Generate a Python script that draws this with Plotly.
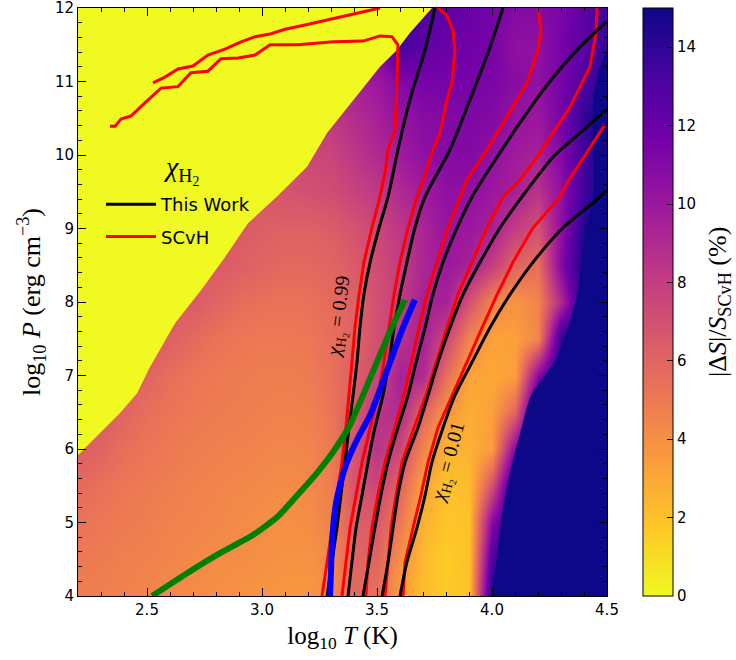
import plotly.graph_objects as go

# ---------------- data ----------------
T_grid = [2.2, 2.3, 2.4, 2.5, 2.6, 2.7, 2.8, 2.9, 3.0, 3.1, 3.2, 3.3,
          3.4, 3.5, 3.6, 3.7, 3.8, 3.9, 4.0, 4.1, 4.2, 4.3, 4.4, 4.5]
P_grid = [4.0, 4.5, 5.0, 5.5, 6.0, 6.5, 7.0, 7.5, 8.0, 8.5, 9.0, 9.5,
          10.0, 10.5, 11.0, 11.5, 12.0]

# |dS|/S_SCvH (%) on the grid above, one row per log10 P
dS_p40 = [4.8, 4.7, 4.6, 4.5, 4.3, 4.2, 4.0, 3.9, 3.8, 3.7, 3.7, 4.1, 5.8, 5.4, 3.4, 2.2, 1.7, 2.0, 15, 15, 15, 15, 15, 15]
dS_p45 = [5.0, 4.9, 4.7, 4.6, 4.5, 4.3, 4.2, 4.1, 4.0, 3.9, 3.9, 4.3, 6.0, 6.0, 4.0, 2.3, 1.6, 2.0, 13.0, 15, 15, 15, 15, 15]
dS_p50 = [5.3, 5.1, 4.9, 4.8, 4.6, 4.5, 4.4, 4.2, 4.1, 4.0, 4.1, 4.6, 6.3, 6.5, 5.0, 2.6, 1.9, 2.0, 11.0, 15, 15, 15, 15, 15]
dS_p55 = [5.7, 5.4, 5.1, 4.9, 4.8, 4.6, 4.5, 4.4, 4.3, 4.2, 4.3, 4.8, 6.8, 7.5, 6.0, 3.2, 2.0, 2.2, 7.0, 15, 15, 15, 15, 15]
dS_p60 = [6.3, 6.0, 5.5, 5.2, 5.0, 4.8, 4.7, 4.6, 4.5, 4.4, 4.5, 5.0, 6.8, 8.5, 7.5, 4.5, 2.5, 2.6, 3.5, 11.0, 15, 15, 15, 15]
dS_p65 = [6.5, 6.5, 6.0, 5.5, 5.2, 5.0, 4.9, 4.8, 4.7, 4.6, 4.7, 5.2, 6.5, 8.5, 9.0, 6.0, 3.8, 2.8, 3.3, 6.0, 15, 15, 15, 15]
dS_p70 = [6.5, 6.5, 6.4, 6.0, 5.5, 5.2, 5.0, 4.9, 4.8, 4.8, 4.9, 5.4, 6.2, 7.5, 9.5, 9.0, 5.5, 3.2, 3.0, 3.4, 11.0, 15, 15, 15]
dS_p75 = [6.5, 6.5, 6.5, 6.5, 6.2, 5.7, 5.3, 5.1, 5.0, 5.0, 5.1, 5.5, 6.0, 7.0, 8.5, 9.5, 7.5, 4.5, 3.2, 3.3, 4.5, 14.0, 15, 15]
dS_p80 = [6.5, 6.5, 6.5, 6.5, 6.5, 6.5, 6.0, 5.6, 5.4, 5.3, 5.4, 5.7, 6.2, 7.0, 8.0, 9.5, 9.5, 7.0, 4.5, 3.8, 4.5, 9.0, 15, 15]
dS_p85 = [6.5, 6.5, 6.5, 6.5, 6.5, 6.5, 6.5, 6.3, 6.0, 5.8, 5.8, 6.0, 6.5, 7.2, 8.0, 9.2, 10.0, 9.5, 8.0, 6.0, 5.5, 11.0, 15, 15]
dS_p90 = [6.5, 6.5, 6.5, 6.5, 6.5, 6.5, 6.5, 6.5, 6.3, 6.2, 6.2, 6.4, 6.9, 7.5, 8.3, 9.3, 10.2, 10.0, 9.5, 8.0, 7.0, 10.5, 14.5, 15]
dS_p95 = [6.8, 6.8, 6.8, 6.8, 6.8, 6.8, 6.8, 6.8, 6.8, 6.8, 7.0, 7.2, 7.7, 8.2, 9.0, 9.8, 10.5, 10.5, 10.0, 9.5, 8.5, 10.5, 13.5, 15]
dS_p100 = [7.5, 7.5, 7.5, 7.5, 7.5, 7.5, 7.5, 7.5, 7.5, 7.5, 7.5, 7.6, 8.4, 9.0, 9.8, 10.5, 11.0, 11.0, 10.5, 9.8, 9.5, 11.0, 13.5, 15]
dS_p105 = [8.2, 8.2, 8.2, 8.2, 8.2, 8.2, 8.2, 8.2, 8.2, 8.2, 8.2, 8.2, 8.8, 9.5, 10.3, 10.8, 11.0, 11.2, 11.0, 10.3, 10.0, 11.5, 14.0, 15]
dS_p110 = [9.5, 9.5, 9.5, 9.5, 9.5, 9.5, 9.5, 9.5, 9.5, 9.5, 9.5, 9.5, 9.5, 10.0, 11.0, 11.5, 11.5, 11.5, 11.3, 10.8, 10.5, 11.5, 13.0, 14.5]
dS_p115 = [11.0, 11.0, 11.0, 11.0, 11.0, 11.0, 11.0, 11.0, 11.0, 11.0, 11.0, 11.0, 11.0, 11.0, 13.5, 12.5, 12.0, 11.8, 11.5, 10.5, 10.5, 11.5, 12.5, 14.0]
dS_p120 = [13.0, 13.0, 13.0, 13.0, 13.0, 13.0, 13.0, 13.0, 13.0, 13.0, 13.0, 13.0, 13.0, 13.0, 13.0, 13.0, 12.5, 12.0, 11.5, 11.0, 11.0, 11.3, 12.5, 13.5]

# region where |dS|/S = 0 (upper left), boundary
zero_T = [2.2, 2.296, 2.383, 2.457, 2.51, 2.622, 2.735, 2.839, 2.939, 3.07,
          3.196, 3.283, 3.396, 3.513, 3.587, 3.643, 3.739, 2.2]
zero_P = [5.92, 6.22, 6.49, 6.76, 7.1, 7.71, 8.16, 8.61, 9.07, 9.45,
          9.84, 10.30, 10.75, 11.2, 11.43, 11.66, 12.0, 12.0]

# region where |dS|/S >= 15 (lower right, saturated), boundary
sat_T = [4.0, 4.02, 4.035, 4.06, 4.09, 4.13, 4.17, 4.27, 4.33, 4.37, 4.39, 4.41, 4.44, 4.44, 4.44, 4.47, 4.5, 4.5]
sat_P = [4.0, 4.5, 4.93, 5.4, 5.82, 6.3, 6.73, 7.18, 7.65, 8.10, 8.54, 9.0, 9.43, 10.0, 10.75, 11.2, 11.4, 4.0]

# shared log10 P levels used by the lower parts of the contours
P_low = [9.43, 9.01, 8.54, 8.10, 7.65, 7.18, 6.73, 6.29, 5.82, 5.37, 4.93, 4.46, 4.00]

# chi_H2 contours, This Work (black)
tw1_T = [3.752, 3.709, 3.643, 3.591] + [3.548, 3.509, 3.470, 3.443, 3.426, 3.413, 3.396, 3.378, 3.361, 3.343, 3.326, 3.304, 3.283]
tw1_P = [12.0, 11.43, 10.75, 10.07] + P_low
tw2_T = [4.048, 3.987, 3.904, 3.817] + [3.709, 3.665, 3.630, 3.600, 3.574, 3.552, 3.526, 3.491, 3.461, 3.435, 3.409, 3.391, 3.374]
tw2_P = [12.0, 11.43, 10.75, 10.07] + P_low
tw3_T = [4.496, 4.370, 4.222, 4.122, 4.022] + [3.913, 3.848, 3.787, 3.743, 3.709, 3.670, 3.635, 3.591, 3.548, 3.517, 3.491, 3.465, 3.439]
tw3_P = [11.81, 11.43, 10.88, 10.44, 9.97] + P_low
tw4_T = [4.496, 4.383, 4.265] + [4.130, 4.035, 3.948, 3.874, 3.817, 3.765, 3.722, 3.678, 3.622, 3.591, 3.570, 3.548, 3.522]
tw4_P = [10.61, 10.30, 9.97] + P_low
tw5_T = [4.496] + [4.470, 4.309, 4.178, 4.078, 3.991, 3.913, 3.839, 3.787, 3.739, 3.709, 3.674, 3.630, 3.600]
tw5_P = [9.52] + P_low

# chi_H2 contours, SCvH (red); None marks a break where the line leaves the frame
sc1_T = [2.339, 2.361, 2.387, 2.430, 2.491, 2.561, 2.635, 2.691, 2.765, 2.822, 2.896, 2.970, 3.035, 3.157,
         3.309, 3.439, 3.513, 3.565, 3.591, 3.587, 3.578, 3.548, 3.535] + \
        [3.513, 3.478, 3.443, 3.422, 3.404, 3.391, 3.378, 3.365, 3.348, 3.326, 3.304, 3.283, 3.261]
sc1_P = [10.39, 10.39, 10.49, 10.53, 10.71, 10.91, 10.93, 11.12, 11.14, 11.31, 11.32, 11.36, 11.50, 11.50,
         11.54, 11.55, 11.62, 11.61, 11.50, 10.98, 10.34, 10.07, 9.76] + P_low
sc2_T = [2.526, 2.578, 2.635, 2.700, 2.765, 2.839, 2.909, 2.970, 3.039, 3.100, 3.187, 3.243, 3.309, 3.457, 3.513,
         None,
         3.765, 3.804, 3.830, 3.839, 3.826, 3.804, 3.774, 3.743, 3.709] + \
        [3.674, 3.635, 3.600, 3.574, 3.552, 3.530, 3.504, 3.470, 3.435, 3.409, 3.383, 3.365, 3.348]
sc2_P = [10.98, 11.06, 11.17, 11.21, 11.36, 11.44, 11.54, 11.61, 11.65, 11.71, 11.77, 11.81, 11.85, 11.96, 12.0,
         None,
         12.0, 11.90, 11.70, 11.43, 10.98, 10.75, 10.30, 10.07, 9.73] + P_low
sc3_T = [4.200, 4.213, 4.200, 4.152, 4.065, 3.978, 3.891] + \
        [3.861, 3.809, 3.761, 3.717, 3.683, 3.648, 3.617, 3.578, 3.535, 3.504, 3.478, 3.461, 3.452]
sc3_P = [12.0, 11.70, 11.43, 10.98, 10.52, 10.07, 9.66] + P_low
sc4_T = [4.457, 4.452, 4.426, 4.404, 4.339, 4.265, 4.187, 4.113] + \
        [4.048, 3.978, 3.913, 3.852, 3.804, 3.757, 3.713, 3.661, 3.609, 3.583, 3.561, 3.548, 3.535]
sc4_P = [12.0, 11.66, 11.20, 11.06, 10.65, 10.30, 9.93, 9.63] + P_low
sc5_T = [4.491, 4.439, 4.396, 4.361, 4.326] + \
        [4.296, 4.178, 4.091, 4.022, 3.957, 3.891, 3.826, 3.765, 3.722, 3.691, 3.657, 3.622, 3.613]
sc5_P = [10.41, 10.16, 9.97, 9.80, 9.62] + P_low

# green and blue tracks
green_T = [2.522, 2.674, 2.804, 2.961, 3.065, 3.165, 3.243, 3.309, 3.383, 3.439, 3.513, 3.570, 3.622]
green_P = [4.00, 4.31, 4.56, 4.83, 5.07, 5.41, 5.69, 5.96, 6.33, 6.73, 7.28, 7.69, 8.03]
blue_T = [3.296, 3.300, 3.304, 3.317, 3.339, 3.370, 3.417, 3.470, 3.504, 3.557, 3.613, 3.665]
blue_P = [4.00, 4.35, 4.69, 5.17, 5.51, 5.82, 6.15, 6.46, 6.73, 7.18, 7.65, 8.03]

cbar_ticks = [0, 2, 4, 6, 8, 10, 12, 14]
x_ticks = [2.5, 3.0, 3.5, 4.0, 4.5]
y_ticks = [4, 5, 6, 7, 8, 9, 10, 11, 12]

# ---------------- figure ----------------
z_rows = [dS_p40, dS_p45, dS_p50, dS_p55, dS_p60, dS_p65, dS_p70, dS_p75, dS_p80,
          dS_p85, dS_p90, dS_p95, dS_p100, dS_p105, dS_p110, dS_p115, dS_p120]

SERIF = "Liberation Serif"
PLASMA_LO = "#f0f921"
PLASMA_HI = "#0d0887"
fig = go.Figure()

fig.add_trace(go.Heatmap(
    x=T_grid, y=P_grid, z=z_rows, zmin=0, zmax=15, zsmooth="best",
    colorscale="Plasma_r", hoverinfo="skip", showscale=True,
    colorbar=dict(
        x=(643 - 78) / 529, xanchor="left", xpad=0, y=0.5, yanchor="middle", ypad=0,
        len=1, lenmode="fraction", thickness=30, thicknessmode="pixels",
        outlinewidth=1, outlinecolor="black",
        tickmode="array", tickvals=cbar_ticks, ticks="inside", ticklen=6,
        tickcolor="black", tickfont=dict(family="DejaVu Sans", size=15, color="black"),
    ),
))

fig.add_trace(go.Scatter(
    x=zero_T, y=zero_P, mode="lines", fill="toself", fillcolor=PLASMA_LO,
    line=dict(width=0, color=PLASMA_LO), hoverinfo="skip", showlegend=False,
))
fig.add_trace(go.Scatter(
    x=sat_T, y=sat_P, mode="lines", fill="toself", fillcolor=PLASMA_HI,
    line=dict(width=0, color=PLASMA_HI, shape="spline", smoothing=0.6),
    hoverinfo="skip", showlegend=False,
))

black_lines = [(tw1_T, tw1_P), (tw2_T, tw2_P), (tw3_T, tw3_P), (tw4_T, tw4_P), (tw5_T, tw5_P)]
red_lines = [(sc1_T, sc1_P), (sc2_T, sc2_P), (sc3_T, sc3_P), (sc4_T, sc4_P), (sc5_T, sc5_P)]

for i, (tx, py) in enumerate(red_lines):
    fig.add_trace(go.Scatter(
        x=tx, y=py, mode="lines", line=dict(color="#ff0000", width=3),
        name="SCvH", legendgroup="scvh", legendrank=2, showlegend=(i == 0),
        hoverinfo="skip", connectgaps=False,
    ))
for i, (tx, py) in enumerate(black_lines):
    fig.add_trace(go.Scatter(
        x=tx, y=py, mode="lines", line=dict(color="black", width=3, shape="spline", smoothing=0.7),
        name="This Work", legendgroup="tw", legendrank=1, showlegend=(i == 0),
        hoverinfo="skip",
    ))

fig.add_trace(go.Scatter(x=green_T, y=green_P, mode="lines",
                         line=dict(color="#008000", width=6, shape="spline", smoothing=0.5),
                         showlegend=False, hoverinfo="skip"))
fig.add_trace(go.Scatter(x=blue_T, y=blue_P, mode="lines",
                         line=dict(color="#0000ff", width=6, shape="spline", smoothing=0.5),
                         showlegend=False, hoverinfo="skip"))

# contour labels
fig.add_annotation(x=3.34, y=7.8, text="<i>χ</i><sub>H<sub>2</sub></sub> = 0.99", showarrow=False,
                   xanchor="center", yanchor="middle",
                   textangle=-83, font=dict(family=SERIF, size=20, color="black"))
fig.add_annotation(x=3.817, y=5.81, text="<i>χ</i><sub>H<sub>2</sub></sub> = 0.01", showarrow=False,
                   xanchor="center", yanchor="middle",
                   textangle=-75, font=dict(family=SERIF, size=20, color="black"))

# legend title
fig.add_annotation(xref="paper", yref="paper", x=(181 - 78) / 529, y=1 - (170 - 8) / 588,
                   xanchor="center", yanchor="middle",
                   text="<i>χ</i><sub>H<sub>2</sub></sub>", showarrow=False,
                   font=dict(family=SERIF, size=28, color="black"))

# colour bar title
fig.add_annotation(xref="paper", yref="paper", x=(719 - 78) / 529, y=0.5,
                   xanchor="center", yanchor="middle", textangle=-90,
                   text="|Δ<i>S</i>|/<i>S</i><sub>SCvH</sub> (%)", showarrow=False,
                   font=dict(family=SERIF, size=26, color="black"))

axis_common = dict(
    showline=True, linecolor="black", linewidth=1, mirror="allticks",
    ticks="inside", ticklen=8, tickwidth=1, tickcolor="black",
    showgrid=False, zeroline=False, ticklabeloverflow="allow",
    tickfont=dict(family="DejaVu Sans", size=15, color="black"),
)
fig.update_xaxes(
    range=[2.2, 4.5], tickmode="array", tickvals=x_ticks,
    ticktext=[f"{v:.1f}" for v in x_ticks],
    minor=dict(ticks="inside", ticklen=4, tickmode="linear", tick0=2.2, dtick=0.1, tickcolor="black", showgrid=False),
    title=dict(text="log<sub>10</sub> <i>T</i> (K)", font=dict(family=SERIF, size=25, color="black"), standoff=8),
    **axis_common,
)
fig.update_yaxes(
    range=[4, 12], tickmode="array", tickvals=y_ticks,
    ticktext=[str(v) for v in y_ticks],
    minor=dict(ticks="inside", ticklen=4, tickmode="linear", tick0=4, dtick=0.2, tickcolor="black", showgrid=False),
    title=dict(text="log<sub>10</sub> <i>P</i> (erg cm<sup>−3</sup>)", font=dict(family=SERIF, size=26, color="black"), standoff=6),
    **axis_common,
)

fig.update_layout(
    width=736, height=660,
    margin=dict(l=78, r=129, t=8, b=64, autoexpand=False),
    paper_bgcolor="white", plot_bgcolor="white",
    font=dict(family="DejaVu Sans", size=15, color="black"),
    showlegend=True,
    legend=dict(
        x=(101 - 78) / 529, y=1 - (186 - 8) / 588, xanchor="left", yanchor="top",
        bgcolor="rgba(0,0,0,0)", borderwidth=0, traceorder="grouped", tracegroupgap=6,
        font=dict(family="DejaVu Sans", size=18, color="black"), itemwidth=50,
    ),
)

fig.write_html("out.html", config={"displayModeBar": False},
               post_script="document.body.style.margin='0px';")
